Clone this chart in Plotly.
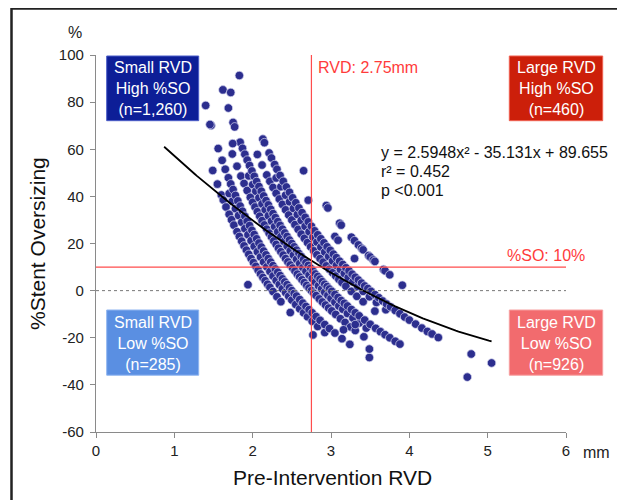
import numpy as np
import plotly.graph_objects as go

# ---- Data (RVD in mm, %Stent Oversizing) ----
rvd_s225 = [1.49, 1.55, 1.60, 1.625, 1.66, 1.70, 1.73, 1.76, 1.80, 1.83, 1.86, 1.89, 1.92, 1.95, 1.98,
            2.01, 2.04, 2.07, 2.10, 2.13, 2.16, 2.19, 2.22, 2.26, 2.31, 2.36, 2.48, 2.77]
so_s225 = [51.0, 45.2, 40.6, 38.5, 35.5, 32.4, 30.1, 27.8, 25.0, 23.0, 21.0, 19.0, 17.2, 15.4, 13.6,
           11.9, 10.3, 8.7, 7.1, 5.6, 4.2, 2.7, 1.4, -0.4, -2.6, -4.7, -9.3, -18.8]

rvd_s240 = [1.70, 1.74, 1.78, 1.82, 1.86, 1.90, 1.94, 1.98, 2.02, 2.06, 2.10, 2.14, 2.18, 2.22, 2.26,
            2.30, 2.34, 2.38, 2.42, 2.46, 2.50, 2.55, 2.60, 2.65, 2.70, 2.76, 2.83, 2.92]
so_s240 = [41.2, 37.9, 34.8, 31.9, 29.0, 26.3, 23.7, 21.2, 18.8, 16.5, 14.3, 12.1, 10.1, 8.1, 6.2,
           4.3, 2.6, 0.8, -0.8, -2.4, -4.0, -5.9, -7.7, -9.4, -11.1, -13.0, -15.2, -17.8]

rvd_s250 = [1.40, 1.47, 1.56, 1.61, 1.65, 1.69, 1.72, 1.75, 1.78, 1.81, 1.84, 1.87, 1.90, 1.93, 1.96,
            1.99, 2.02, 2.05, 2.08, 2.11, 2.14, 2.17, 2.20, 2.23, 2.26, 2.29, 2.32, 2.35, 2.38, 2.41,
            2.44, 2.47, 2.50, 2.53, 2.56, 2.60, 2.64, 2.68, 2.72, 2.76, 2.81, 2.86, 2.92, 2.98, 3.05,
            3.14, 3.24, 3.49]
so_s250 = [78.6, 70.1, 60.3, 55.3, 51.5, 47.9, 45.3, 42.9, 40.4, 38.1, 35.9, 33.7, 31.6, 29.5, 27.6,
           25.6, 23.8, 22.0, 20.2, 18.5, 16.8, 15.2, 13.6, 12.1, 10.6, 9.2, 7.8, 6.4, 5.0, 3.7,
           2.5, 1.2, 0.0, -1.2, -2.3, -3.8, -5.3, -6.7, -8.1, -9.4, -11.0, -12.6, -14.4, -16.1, -18.0,
           -20.4, -22.8, -28.4]

rvd_s275 = [1.74, 1.80, 1.85, 1.89, 1.93, 1.97, 2.00, 2.03, 2.06, 2.09, 2.12, 2.15, 2.18, 2.21, 2.24,
            2.27, 2.30, 2.33, 2.36, 2.39, 2.42, 2.45, 2.48, 2.51, 2.54, 2.57, 2.60, 2.63, 2.66, 2.69,
            2.72, 2.75, 2.78, 2.81, 2.85, 2.89, 2.93, 2.97, 3.01, 3.06, 3.12, 3.18, 3.25, 3.31, 3.42]
so_s275 = [58.0, 52.8, 48.6, 45.5, 42.5, 39.6, 37.5, 35.5, 33.5, 31.6, 29.7, 27.9, 26.1, 24.4, 22.8,
           21.1, 19.6, 18.0, 16.5, 15.1, 13.6, 12.2, 10.9, 9.6, 8.3, 7.0, 5.8, 4.6, 3.4, 2.2,
           1.1, 0.0, -1.1, -2.1, -3.5, -4.8, -6.1, -7.4, -8.6, -10.1, -11.9, -13.5, -15.4, -16.9, -19.6]

rvd_s290 = [1.95, 2.00, 2.04, 2.08, 2.12, 2.16, 2.20, 2.24, 2.28, 2.32, 2.36, 2.40, 2.44, 2.48, 2.52,
            2.56, 2.60, 2.64, 2.68, 2.72, 2.76, 2.80, 2.84, 2.88, 2.92, 2.96, 3.00, 3.05, 3.10, 3.15,
            3.21, 3.28, 3.36, 3.45]
so_s290 = [48.7, 45.0, 42.2, 39.4, 36.8, 34.3, 31.8, 29.5, 27.2, 25.0, 22.9, 20.8, 18.9, 16.9, 15.1,
           13.3, 11.5, 9.8, 8.2, 6.6, 5.1, 3.6, 2.1, 0.7, -0.7, -2.0, -3.3, -4.9, -6.5, -7.9,
           -9.7, -11.6, -13.7, -15.9]

rvd_s300 = [1.62, 1.69, 1.75, 1.77, 1.84, 1.87, 1.90, 1.93, 1.96, 1.99, 2.02, 2.05, 2.08, 2.11, 2.14,
            2.17, 2.20, 2.23, 2.26, 2.29, 2.32, 2.35, 2.38, 2.41, 2.44, 2.47, 2.50, 2.53, 2.56, 2.59,
            2.62, 2.65, 2.68, 2.71, 2.74, 2.77, 2.80, 2.83, 2.86, 2.89, 2.92, 2.95, 2.98, 3.01, 3.05,
            3.09, 3.13, 3.17, 3.21, 3.26, 3.31, 3.36, 3.43, 3.50, 3.57, 3.63, 3.69, 3.75, 3.82, 3.88, 4.74]
so_s300 = [85.2, 77.5, 71.4, 69.5, 63.0, 60.4, 57.9, 55.4, 53.1, 50.8, 48.5, 46.3, 44.2, 42.2, 40.2,
           38.2, 36.4, 34.5, 32.7, 31.0, 29.3, 27.7, 26.1, 24.5, 23.0, 21.5, 20.0, 18.6, 17.2, 15.8,
           14.5, 13.2, 11.9, 10.7, 9.5, 8.3, 7.1, 6.0, 4.9, 3.8, 2.7, 1.7, 0.7, -0.3, -1.6,
           -2.9, -4.2, -5.4, -6.5, -8.0, -9.4, -10.7, -12.5, -14.3, -16.0, -17.4, -18.7, -20.0, -21.5, -22.7, -36.7]

rvd_s325 = [2.06, 2.12, 2.18, 2.22, 2.26, 2.30, 2.34, 2.38, 2.42, 2.46, 2.50, 2.54, 2.58, 2.62, 2.66,
            2.70, 2.74, 2.78, 2.82, 2.86, 2.90, 2.94, 2.98, 3.02, 3.06, 3.10, 3.14, 3.19, 3.26, 3.33,
            3.41, 3.56]
so_s325 = [57.8, 53.3, 49.1, 46.4, 43.8, 41.3, 38.9, 36.6, 34.3, 32.1, 30.0, 28.0, 26.0, 24.0, 22.2,
           20.4, 18.6, 16.9, 15.2, 13.6, 12.1, 10.5, 9.1, 7.6, 6.2, 4.8, 3.5, 1.9, -0.3, -2.4,
           -4.7, -8.7]

rvd_s340 = [2.30, 2.36, 2.42, 2.47, 2.52, 2.57, 2.62, 2.67, 2.72, 2.77, 2.82, 2.87, 2.92, 2.97, 3.02,
            3.07, 3.12, 3.17, 3.22, 3.28, 3.34, 3.41, 3.49, 3.58, 3.70]
so_s340 = [47.8, 44.1, 40.5, 37.7, 34.9, 32.3, 29.8, 27.3, 25.0, 22.7, 20.6, 18.5, 16.4, 14.5, 12.6,
           10.7, 9.0, 7.3, 5.6, 3.7, 1.8, -0.3, -2.6, -5.0, -8.1]

rvd_s350 = [1.83, 2.13, 2.15, 2.21, 2.24, 2.28, 2.31, 2.35, 2.39, 2.43, 2.47, 2.51, 2.55, 2.59, 2.63,
            2.67, 2.71, 2.75, 2.79, 2.83, 2.87, 2.91, 2.95, 2.99, 3.03, 3.07, 3.11, 3.15, 3.19, 3.23,
            3.27, 3.31, 3.35, 3.39, 3.43, 3.47, 3.51, 3.56, 3.61, 3.66, 3.71, 3.76, 3.82, 3.88, 3.94,
            4.00, 4.08, 4.16, 4.23, 4.29, 4.37, 4.79, 5.05]
so_s350 = [91.3, 64.3, 62.8, 58.4, 56.3, 53.5, 51.5, 48.9, 46.4, 44.0, 41.7, 39.4, 37.3, 35.1, 33.1,
           31.1, 29.2, 27.3, 25.4, 23.7, 22.0, 20.3, 18.6, 17.1, 15.5, 14.0, 12.5, 11.1, 9.7, 8.4,
           7.0, 5.7, 4.5, 3.2, 2.0, 0.9, -0.3, -1.7, -3.0, -4.4, -5.7, -6.9, -8.4, -9.8, -11.2,
           -12.5, -14.2, -15.9, -17.3, -18.4, -19.9, -26.9, -30.7]

rvd_s375 = [2.71, 3.05, 3.09, 3.30]
so_s375 = [38.4, 23.0, 21.4, 13.6]

rvd_s400 = [2.65, 2.94, 2.96, 3.11, 3.13, 3.26, 3.30, 3.35, 3.39, 3.41, 3.48, 3.50, 3.54, 3.56, 3.67,
            3.69, 3.75, 3.91]
so_s400 = [50.9, 36.1, 35.1, 28.6, 27.8, 22.7, 21.2, 19.4, 18.0, 17.3, 14.9, 14.3, 13.0, 12.4, 9.0,
           8.4, 6.7, 2.3]

rvd_other = [1.72, 1.745, 1.94, 3.16, 3.31, 3.49, 1.455]
so_other = [84.1, 62.4, 2.5, -16.6, -14.4, -24.8, 70.5]

# Quadratic fit shown on the chart: y = 2.5948x^2 - 35.131x + 89.655
fit_a, fit_b, fit_c = 2.5948, -35.131, 89.655
fit_x_range = [0.87, 5.05]

# Reference lines
rvd_cut = 2.75
so_cut = 10

x_ticks = [0, 1, 2, 3, 4, 5, 6]
y_ticks = [-60, -40, -20, 0, 20, 40, 60, 80, 100]

quadrants = [
    ("Small RVD<br>High %SO<br>(n=1,260)", "#0d1e97", "#4a5cc8", "left", "top"),
    ("Large RVD<br>High %SO<br>(n=460)", "#cc1f0a", "#f06050", "right", "top"),
    ("Small RVD<br>Low %SO<br>(n=285)", "#5a8fe2", "#8fb5f0", "left", "bottom"),
    ("Large RVD<br>Low %SO<br>(n=926)", "#f26b6e", "#f7a0a0", "right", "bottom"),
]

# ---- Build figure ----
rvd_all = (rvd_s225 + rvd_s240 + rvd_s250 + rvd_s275 + rvd_s290 + rvd_s300 + rvd_s325 + rvd_s340
           + rvd_s350 + rvd_s375 + rvd_s400 + rvd_other)
so_all = (so_s225 + so_s240 + so_s250 + so_s275 + so_s290 + so_s300 + so_s325 + so_s340
          + so_s350 + so_s375 + so_s400 + so_other)

FONT = "Liberation Sans, Arial, sans-serif"

fig = go.Figure()
fig.add_trace(go.Scatter(
    x=rvd_all, y=so_all, mode="markers",
    marker=dict(size=8.5, color="#2c2e8e", line=dict(color="rgba(215,215,240,0.9)", width=0.8)),
    hoverinfo="skip", showlegend=False,
))

fx = np.linspace(fit_x_range[0], fit_x_range[1], 120)
fy = fit_a * fx ** 2 + fit_b * fx + fit_c
fig.add_trace(go.Scatter(x=fx, y=fy, mode="lines", line=dict(color="black", width=1.8),
                         hoverinfo="skip", showlegend=False))

# screen pixel -> paper helpers (plot area on screen: x 96..566, y 55..432)
def px(p):
    return (p - 96) / 470.0

def py(p):
    return (432 - p) / 377.0

shapes = []
# outer frame
shapes.append(dict(type="rect", xref="paper", yref="paper", x0=px(11.5), x1=px(660), y0=py(530), y1=py(8.6),
                   line=dict(color="#222222", width=2.5), fillcolor="rgba(0,0,0,0)", layer="below"))
# zero dashed line
shapes.append(dict(type="line", xref="x", yref="y", x0=0, x1=6, y0=0, y1=0,
                   line=dict(color="#777777", width=1, dash="3px,3px")))
# red reference lines
shapes.append(dict(type="line", xref="x", yref="y", x0=rvd_cut, x1=rvd_cut, y0=-60, y1=100,
                   line=dict(color="#ff4d4d", width=1.2)))
shapes.append(dict(type="line", xref="x", yref="y", x0=0, x1=6, y0=so_cut, y1=so_cut,
                   line=dict(color="#ff4d4d", width=1.2)))

annotations = []
box_x = {"left": (106.7, 198.7), "right": (509.3, 602.7)}
box_y = {"top": (56, 120.7), "bottom": (310, 375.2)}
for text, fill, border, hx, vy in quadrants:
    x0, x1 = box_x[hx]
    y0, y1 = box_y[vy]
    shapes.append(dict(type="rect", xref="paper", yref="paper", x0=px(x0), x1=px(x1), y0=py(y1), y1=py(y0),
                       fillcolor=fill, line=dict(color=border, width=1), layer="above"))
    annotations.append(dict(xref="paper", yref="paper", x=px((x0 + x1) / 2), y=py((y0 + y1) / 2 + 0.5),
                            text=text, showarrow=False, xanchor="center", yanchor="middle",
                            font=dict(family=FONT, size=16, color="white")))

# red line labels
annotations.append(dict(xref="paper", yref="paper", x=px(316), y=py(67), text="RVD: 2.75mm",
                        showarrow=False, xanchor="left", yanchor="middle",
                        font=dict(family=FONT, size=16, color="#ff3b3b")))
annotations.append(dict(xref="paper", yref="paper", x=px(505), y=py(255), text="%SO: 10%",
                        showarrow=False, xanchor="left", yanchor="middle",
                        font=dict(family=FONT, size=16, color="#ff3b3b")))

# equation block
for txt, yy in [("y = 2.5948x² - 35.131x + 89.655", 152.5), ("r² = 0.452", 171), ("p <0.001", 190)]:
    annotations.append(dict(xref="paper", yref="paper", x=px(379), y=py(yy), text=txt,
                            showarrow=False, xanchor="left", yanchor="middle",
                            font=dict(family=FONT, size=16, color="#111111")))

# axis titles and units
annotations.append(dict(xref="paper", yref="paper", x=px(37), y=py(244), text="%Stent Oversizing",
                        textangle=-90, showarrow=False, xanchor="center", yanchor="middle",
                        font=dict(family=FONT, size=21, color="#111111")))
annotations.append(dict(xref="paper", yref="paper", x=px(332), y=py(477), text="Pre-Intervention RVD",
                        showarrow=False, xanchor="center", yanchor="middle",
                        font=dict(family=FONT, size=21, color="#111111")))
annotations.append(dict(xref="paper", yref="paper", x=px(74.5), y=py(32.5), text="%",
                        showarrow=False, xanchor="center", yanchor="middle",
                        font=dict(family=FONT, size=16, color="#222222")))
annotations.append(dict(xref="paper", yref="paper", x=px(596), y=py(452), text="mm",
                        showarrow=False, xanchor="center", yanchor="middle",
                        font=dict(family=FONT, size=16, color="#222222")))

axis_common = dict(showgrid=False, zeroline=False, showline=True, linecolor="#8a8a8a", linewidth=1.2,
                   ticks="outside", ticklen=5, tickcolor="#8a8a8a", tickwidth=1.2,
                   tickfont=dict(family=FONT, size=15, color="#222222"))

# The page body has an 8px margin, so the figure is sized to fit the 625x500 window.
fig.update_layout(
    width=617, height=492,
    margin=dict(l=88, r=59, t=47, b=68, autoexpand=False),
    paper_bgcolor="white", plot_bgcolor="white",
    xaxis=dict(range=[0, 6], tickvals=x_ticks, ticktext=[str(v) for v in x_ticks], **axis_common),
    yaxis=dict(range=[-60, 100], tickvals=y_ticks, ticktext=[str(v) for v in y_ticks],
               ticklabelstandoff=3, **axis_common),
    shapes=shapes, annotations=annotations, showlegend=False,
)

fig.write_html("out.html")
